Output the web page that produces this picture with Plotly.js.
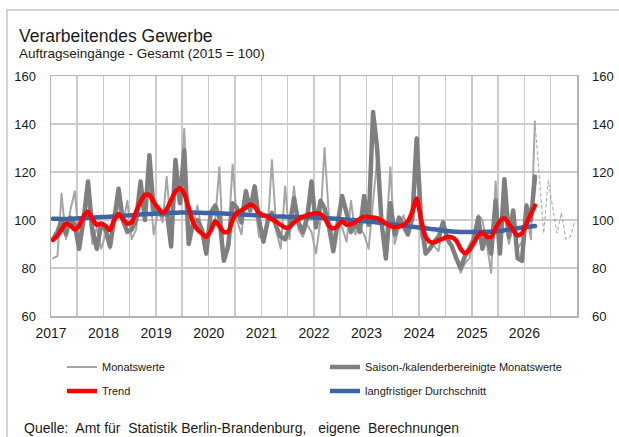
<!DOCTYPE html>
<html>
<head>
<meta charset="utf-8">
<script src="https://cdn.plot.ly/plotly-3.0.1.min.js"></script>
<style>
html,body{margin:0;padding:0;background:#fff;}
#chart{width:619px;height:437px;}
.scatterlayer path.js-line{stroke-linejoin:round;stroke-linecap:round;}
</style>
</head>
<body>
<div id="chart"></div>
<script>
// ---- data (monthly, Jan 2017 – Mar 2026) ----
const startYear = 2017;
const monatswerte = [
  84, 85, 111, 92, 104, 112, 92, 101, 108, 90, 97, 88,
  94, 88, 100, 106, 98, 108, 92, 96, 111, 103, 114, 94,
  104, 99, 118, 96, 112, 108, 138, 96, 98, 106, 95, 90,
  98, 100, 122, 83, 92, 123, 100, 94, 110, 104, 108, 93,
  92, 98, 125, 95, 88, 114, 92, 114, 96, 93, 98, 95,
  86, 100, 130, 101, 93, 96, 97, 91, 108, 94, 97, 94,
  88, 108, 125, 96, 92, 122, 90, 97, 102, 96, 100, 121,
  93, 90, 91, 89, 87, 99, 92, 89, 83, 78, 82, 84,
  95, 102, 100, 90, 78, 116, 90, 103, 90, 98, 88, 91,
  103, 92, 141
];
const bereinigt = [
  92, 95, 100, 94, 101, 98, 88, 100, 116, 96, 88, 98,
  96, 89, 100, 113, 100, 95, 96, 100, 116, 100, 127, 104,
  103, 102, 104, 89, 125, 107, 129, 90, 99, 100, 96, 86,
  103, 106, 101, 83, 89, 107, 105, 99, 112, 104, 114, 100,
  91, 100, 103, 97, 93, 92, 97, 109, 99, 95, 101, 116,
  97, 108, 105, 97, 87, 100, 110, 103, 95, 99, 95, 110,
  98, 145, 130, 99, 84, 107, 94, 101, 97, 94, 101, 134,
  99, 86, 88, 91, 93, 99, 92, 89, 84, 80, 85, 88,
  92, 101, 88, 94, 86, 108, 86, 117, 93, 104, 84, 83,
  106, 100, 118
];
const trend = [
  91.7, 93.5, 96, 98.5, 97.8, 96, 97.5, 101.5, 103.5, 100.5, 98, 98.5,
  97.5, 95.8, 100, 102.5, 100.5, 98.5, 99, 103.5, 107.5, 110.5, 110.5, 107.5,
  105, 103, 104.5, 108.3, 112, 113.2, 111, 105, 99, 96, 94.4, 93,
  95.5, 99.5, 97.5, 95, 95, 100, 103, 104, 105.2, 106.5, 105.5, 103,
  102, 101.2, 100.3, 99.2, 98, 96.8, 97, 99, 100.3, 101.3, 102, 102.5,
  102.8, 102.5, 101, 97.5, 96.5, 97.5, 99.5, 98, 98.3, 99, 100.5, 101.4,
  101.3, 101, 100.8, 99.8, 98.5, 97.5, 97, 97.3, 98, 99.5, 103.5, 109,
  100, 93, 91, 90.6, 91.5, 92.2, 93, 92.8, 91.5, 88, 86.2, 87.5,
  90.5, 93.5, 94.8, 93, 93, 96.5, 99.5, 100.8, 98.5, 95.8, 93.5, 94.5,
  98.5, 102.5, 106
];
const durchschnitt = [
  100.5, 100.5, 100.4, 100.4, 100.5, 100.6, 100.7, 100.8, 100.9, 101.0, 101.1, 101.2,
  101.3, 101.4, 101.5, 101.6, 101.8, 101.9, 102.0, 102.2, 102.3, 102.4, 102.5, 102.6,
  102.7, 102.8, 102.9, 103.0, 103.0, 103.1, 103.1, 103.1, 103.1, 103.0, 103.0, 102.9,
  102.9, 102.8, 102.8, 102.7, 102.6, 102.5, 102.4, 102.3, 102.2, 102.1, 102.0, 101.9,
  101.8, 101.7, 101.6, 101.5, 101.5, 101.4, 101.3, 101.3, 101.2, 101.2, 101.1, 101.1,
  101.0, 100.9, 100.8, 100.7, 100.6, 100.5, 100.3, 100.2, 100.0, 99.9, 99.7, 99.5,
  99.3, 99.2, 99.0, 98.8, 98.6, 98.3, 98.1, 97.9, 97.6, 97.4, 97.2, 97.0,
  96.8, 96.6, 96.3, 96.1, 95.9, 95.6, 95.4, 95.2, 95.1, 95.0, 95.0, 95.0,
  95.0, 95.0, 95.0, 95.1, 95.2, 95.3, 95.5, 95.7, 96.0, 96.3, 96.6, 96.9,
  97.1, 97.3, 97.5
];
// dotted continuation (Mar 2026 – Dec 2026)
const ausblickStart = 110; // month index of Mar 2026
const ausblick = [141, 118, 94.5, 116.5, 105, 94.5, 103, 92, 93, 99];

const yTicks = [60, 80, 100, 120, 140, 160];
const yearLabels = ['2017', '2018', '2019', '2020', '2021', '2022', '2023', '2024', '2025', '2026'];

// month labels (mid-month dates)
function monthDate(i) {
  const y = startYear + Math.floor(i / 12);
  const m = (i % 12) + 1;
  return y + '-' + (m < 10 ? '0' + m : m) + '-15';
}
const months = monatswerte.map((_, i) => monthDate(i));
const ausblickMonths = ausblick.map((_, k) => monthDate(ausblickStart + k));
const yearTickVals = yearLabels.map(y => y + '-01-01');

const FONT = 'Liberation Sans, Arial, sans-serif';
const GRID = '#cbcbcb';

const traces = [
  {x: months, y: monatswerte, type: 'scatter', mode: 'lines', name: 'Monatswerte',
   line: {color: '#a6a6a6', width: 2}, legend: 'legend', legendrank: 1},
  {x: months, y: bereinigt, type: 'scatter', mode: 'lines', name: 'Saison-/kalenderbereinigte Monatswerte',
   line: {color: '#7f7f7f', width: 4.5}, legend: 'legend', legendrank: 2},
  {x: ausblickMonths, y: ausblick, type: 'scatter', mode: 'lines', showlegend: false,
   line: {color: '#a6a6a6', width: 1, dash: 'dot'}, hoverinfo: 'skip'},
  {x: months, y: durchschnitt, type: 'scatter', mode: 'lines', name: 'langfristiger Durchschnitt',
   line: {color: '#3e65a3', width: 4.5, shape: 'spline', smoothing: 0.6}, legend: 'legend2', legendrank: 2},
  {x: months, y: trend, type: 'scatter', mode: 'lines', name: 'Trend',
   line: {color: '#ff0000', width: 4.5, shape: 'spline', smoothing: 0.6}, legend: 'legend2', legendrank: 1},
  {x: [months[0]], y: [100], type: 'scatter', mode: 'lines', yaxis: 'y2', showlegend: false,
   line: {color: 'rgba(0,0,0,0)'}, hoverinfo: 'skip'}
];

const W = 619, H = 437, L = 51, R = 42, T = 76, B = 121;
const pw = W - L - R, ph = H - T - B;
const px = v => (v - L) / pw;
const py = v => (H - B - v) / ph;

const legendCommon = {
  orientation: 'h', xanchor: 'left', yanchor: 'middle',
  entrywidth: 218, entrywidthmode: 'pixels',
  font: {family: FONT, size: 11, color: '#1a1a1a'},
  bgcolor: 'rgba(0,0,0,0)', traceorder: 'normal'
};

const layout = {
  width: W, height: H,
  margin: {l: L, r: R, t: T, b: B, autoexpand: false},
  paper_bgcolor: '#ffffff', plot_bgcolor: '#ffffff',
  showlegend: true,
  font: {family: FONT, color: '#1a1a1a'},
  xaxis: {
    type: 'date', range: ['2017-01-01', '2027-01-01'],
    tickmode: 'array', tickvals: yearTickVals, ticktext: yearLabels,
    showgrid: true, gridcolor: GRID, gridwidth: 1.5,
    minor: {tick0: '2017-01-01', dtick: 'M6', showgrid: true, gridcolor: GRID, gridwidth: 1.5},
    showline: true, linecolor: '#b3b3b3', linewidth: 1.5, mirror: true,
    ticks: '', ticklabelstandoff: 4,
    tickfont: {family: FONT, size: 14, color: '#1a1a1a'},
    zeroline: false, fixedrange: true
  },
  yaxis: {
    range: [60, 160], tickvals: yTicks, ticktext: yTicks.map(String),
    showgrid: true, gridcolor: GRID, gridwidth: 1.5,
    showline: true, linecolor: '#b3b3b3', linewidth: 1.5, mirror: true,
    ticks: '', ticklabelstandoff: 11,
    tickfont: {family: FONT, size: 13, color: '#1a1a1a'},
    zeroline: false, fixedrange: true
  },
  yaxis2: {
    overlaying: 'y', side: 'right', range: [60, 160], tickvals: yTicks, ticktext: yTicks.map(String),
    showgrid: false, showline: false, ticks: '', ticklabelstandoff: 14,
    tickfont: {family: FONT, size: 13, color: '#1a1a1a'},
    zeroline: false, fixedrange: true
  },
  legend: Object.assign({x: px(62), y: py(367)}, legendCommon),
  legend2: Object.assign({x: px(62), y: py(391)}, legendCommon),
  annotations: [
    {text: 'Verarbeitendes Gewerbe', xref: 'paper', yref: 'paper', x: px(17), y: py(36),
     xanchor: 'left', yanchor: 'middle', showarrow: false,
     font: {family: FONT, size: 17.5, color: '#1a1a1a'}},
    {text: 'Auftragseingänge - Gesamt (2015 = 100)', xref: 'paper', yref: 'paper', x: px(17), y: py(53.5),
     xanchor: 'left', yanchor: 'middle', showarrow: false,
     font: {family: FONT, size: 13.5, color: '#1a1a1a'}},
    {text: 'Quelle:\u00a0 Amt für\u00a0 Statistik Berlin-Brandenburg,\u00a0\u00a0 eigene\u00a0 Berechnungen',
     xref: 'paper', yref: 'paper', x: px(22), y: py(428),
     xanchor: 'left', yanchor: 'middle', showarrow: false,
     font: {family: FONT, size: 14, color: '#1a1a1a'}}
  ],
  shapes: [
    {type: 'rect', xref: 'paper', yref: 'paper', layer: 'below',
     x0: px(7), x1: px(640), y0: py(460), y1: py(10),
     line: {color: '#d4d4d4', width: 2}, fillcolor: 'rgba(0,0,0,0)'}
  ]
};

Plotly.newPlot('chart', traces, layout, {staticPlot: true, displayModeBar: false});
</script>
</body>
</html>
